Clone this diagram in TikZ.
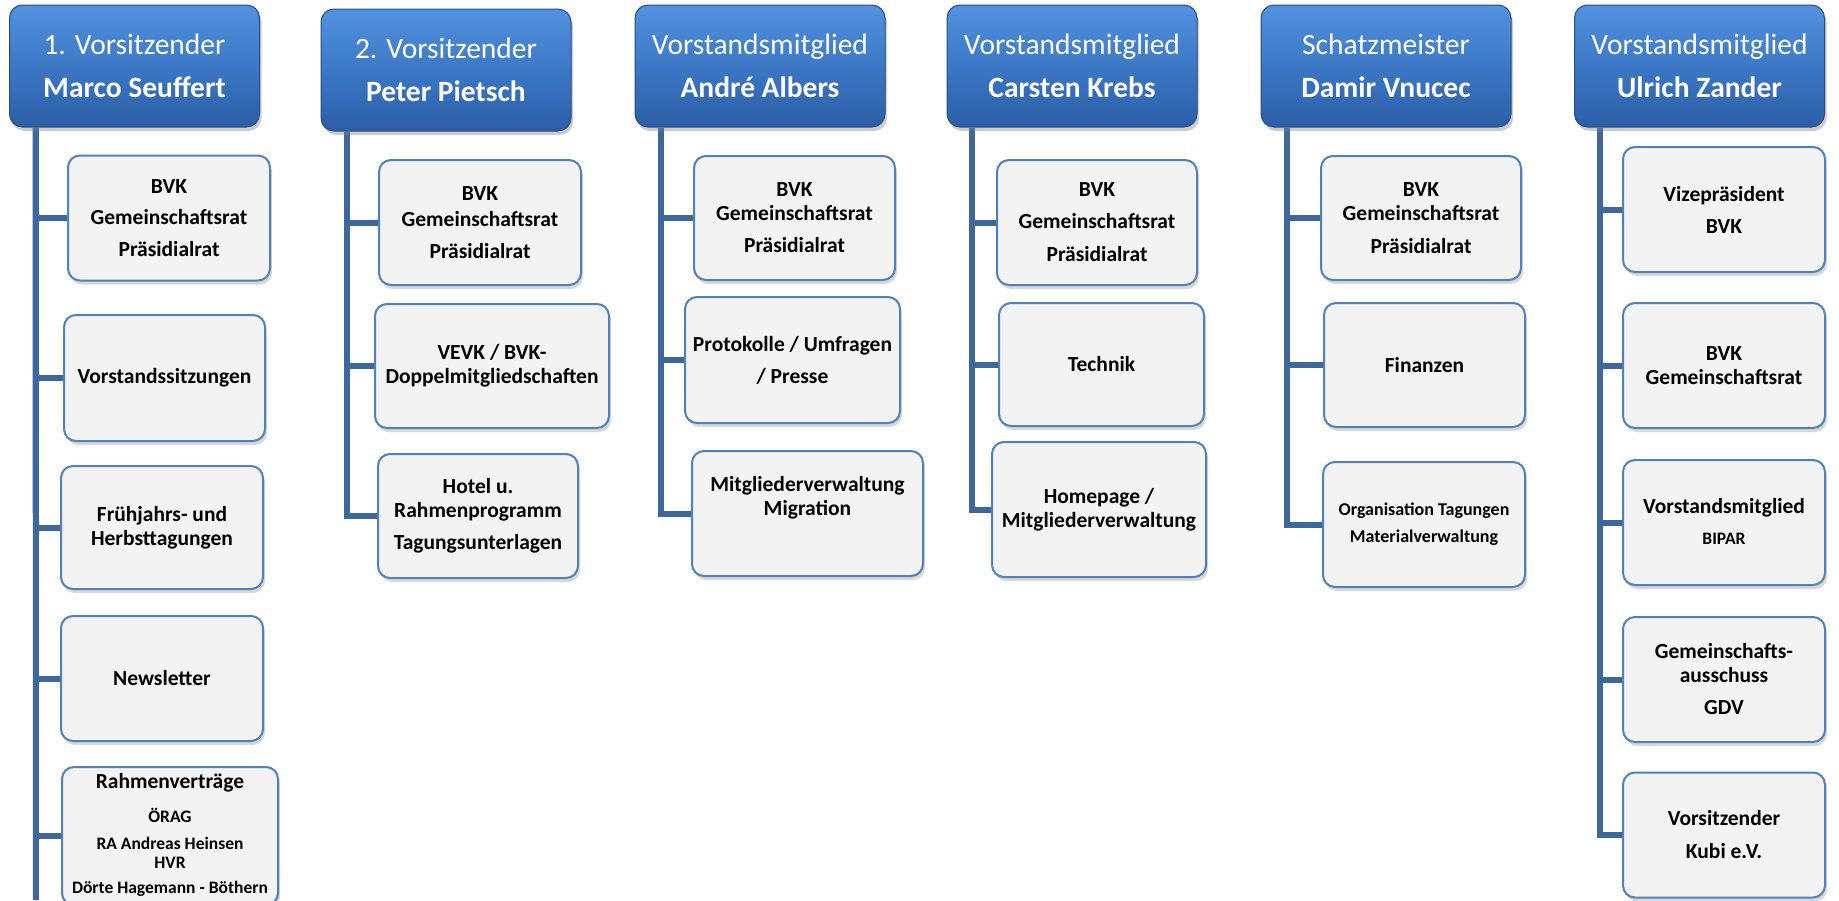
\documentclass[tikz,border=0pt]{standalone}
\usepackage{fontspec}
\setmainfont{Carlito}
\usetikzlibrary{shadows,backgrounds}
\definecolor{headtop}{RGB}{82,146,224}
\definecolor{headmid}{RGB}{60,120,198}
\definecolor{headbot}{RGB}{44,94,166}
\definecolor{headline}{RGB}{38,78,130}
\definecolor{childline}{RGB}{79,129,189}
\definecolor{childfill}{RGB}{243,243,243}
\definecolor{conncol}{RGB}{62,104,155}
\begin{document}
\begin{tikzpicture}[x=1pt,y=-1pt,
  headbox/.style={rectangle, rounded corners=13pt, draw=headline, line width=1pt,
    top color=headtop, bottom color=headbot, middle color=headmid,
    minimum width=250pt, minimum height=122pt, inner sep=0pt, text=white, align=center,
    font=\fontsize{29.5}{34}\selectfont,
    drop shadow={shadow xshift=2pt, shadow yshift=-4pt, opacity=0.4}},
  subbox/.style={rectangle, rounded corners=12pt, draw=childline, line width=2pt,
    fill=childfill, inner sep=0pt, align=center,
    font=\fontsize{21.5}{24}\selectfont\bfseries,
    minimum width=202pt, minimum height=125pt,
    drop shadow={shadow xshift=2pt, shadow yshift=-4pt, opacity=0.3}},
  txt/.style={inner sep=0pt, align=center, font=\fontsize{21.5}{24}\selectfont\bfseries},
  smalltxt/.style={inner sep=0pt, font=\fontsize{17.5}{20}\selectfont\bfseries},
  connline/.style={draw=conncol, line width=6pt}
]
\useasboundingbox (0,0) rectangle (1839,900);

% headers
\node[headbox] (h1) at (134.5,66) {1. Vorsitzender\\[9pt]\textbf{Marco Seuffert}};
\node[headbox] (h2) at (446,70) {2. Vorsitzender\\[9pt]\textbf{Peter Pietsch}};
\node[headbox] (h3) at (760,66) {Vorstandsmitglied\\[9pt]\textbf{André Albers}};
\node[headbox] (h4) at (1072,66) {Vorstandsmitglied\\[9pt]\textbf{Carsten Krebs}};
\node[headbox] (h5) at (1386,66) {Schatzmeister\\[9pt]\textbf{Damir Vnucec}};
\node[headbox] (h6) at (1699.5,66) {Vorstandsmitglied\\[9pt]\textbf{Ulrich Zander}};

% column 1
\node[subbox] (c1a) at (169,218) {BVK\\[7pt]Gemeinschaftsrat\\[8pt]Präsidialrat};
\node[subbox, minimum width=201pt, minimum height=126pt] (c1b) at (164.5,378) {Vorstandssitzungen};
\node[subbox, minimum height=123pt] (c1c) at (162,527.5) {Frühjahrs- und\\Herbsttagungen};
\node[subbox] (c1d) at (162,678.5) {Newsletter};
\node[subbox, minimum width=216pt, minimum height=138pt] (c1e) at (170,836) {};
\node[txt] (t1e1) at (170,783) {Rahmenverträge};
\node[smalltxt] (t1e2) at (170,815) {ÖRAG};
\node[smalltxt] (t1e3) at (170,843) {RA Andreas Heinsen};
\node[smalltxt] (t1e4) at (170,863) {HVR};
\node[smalltxt] (t1e5) at (170,889) {Dörte Hagemann - Böthern};
\coordinate (e1) at (36,900);

% column 2
\node[subbox] (c2a) at (480,222.5) {BVK\\[2pt]Gemeinschaftsrat\\[8pt]Präsidialrat};
\node[subbox, minimum width=234pt, minimum height=124pt] (c2b) at (492,366) {VEVK / BVK-\\Doppelmitgliedschaften};
\node[subbox, minimum width=200pt, minimum height=124pt] (c2c) at (478,516) {Hotel u.\\Rahmenprogramm\\[8pt]Tagungsunterlagen};

% column 3
\node[subbox, minimum width=201pt, minimum height=124pt] (c3a) at (794.5,218) {BVK\\Gemeinschaftsrat\\[8pt]Präsidialrat};
\node[subbox, minimum width=215pt, minimum height=126pt] (c3b) at (792.5,360) {Protokolle / Umfragen\\[8pt]/ Presse};
\node[subbox, minimum width=231pt] (c3c) at (807.5,513.5) {};
\node[txt] (t3c) at (807.5,498) {Mitgliederverwaltung\\Migration};

% column 4
\node[subbox, minimum width=200pt] (c4a) at (1097,222.5) {BVK\\[8pt]Gemeinschaftsrat\\[9pt]Präsidialrat};
\node[subbox, minimum width=205pt, minimum height=123pt] (c4b) at (1101.5,364.5) {Technik};
\node[subbox, minimum width=214pt, minimum height=135pt] (c4c) at (1099,509.5) {Homepage /\\Mitgliederverwaltung};

% column 5
\node[subbox, minimum width=200pt, minimum height=124pt] (c5a) at (1421,218) {BVK\\Gemeinschaftsrat\\[9pt]Präsidialrat};
\node[subbox, minimum width=201pt, minimum height=124pt] (c5b) at (1424.5,365) {Finanzen};
\node[subbox, font=\fontsize{18}{21}\selectfont\bfseries] (c5c) at (1424,524.5) {Organisation Tagungen\\[6pt]Materialverwaltung};

% column 6
\node[subbox] (c6a) at (1724,209.5) {Vizepräsident\\[8pt]BVK};
\node[subbox] (c6b) at (1724,365.5) {BVK\\Gemeinschaftsrat};
\node[subbox] (c6c) at (1724,522.5) {};
\node[txt] (t6c1) at (1724,508) {Vorstandsmitglied};
\node[smalltxt] (t6c2) at (1724,539) {BIPAR};
\node[subbox] (c6d) at (1724,679.5) {Gemeinschafts-\\ausschuss\\[8pt]GDV};
\node[subbox] (c6e) at (1724,835) {Vorsitzender\\[9pt]Kubi e.V.};

% background and connectors
\begin{scope}[on background layer]
\fill[white] (0,0) rectangle (1839,900);
\draw[connline] ([xshift=26.5pt]h1.south west) -- (e1);
\foreach \c in {c1a,c1b,c1c,c1d,c1e}
  \draw[connline] ([xshift=26.5pt]h1.south west) |- (\c.west);
\foreach \c in {c2a,c2b,c2c}
  \draw[connline] ([xshift=26.5pt]h2.south west) |- (\c.west);
\foreach \c in {c3a,c3b,c3c}
  \draw[connline] ([xshift=26.5pt]h3.south west) |- (\c.west);
\foreach \c in {c4a,c4b,c4c}
  \draw[connline] ([xshift=25pt]h4.south west) |- (\c.west);
\foreach \c in {c5a,c5b,c5c}
  \draw[connline] ([xshift=26.5pt]h5.south west) |- (\c.west);
\foreach \c in {c6a,c6b,c6c,c6d,c6e}
  \draw[connline] ([xshift=26pt]h6.south west) |- (\c.west);
\end{scope}
\end{tikzpicture}
\end{document}
